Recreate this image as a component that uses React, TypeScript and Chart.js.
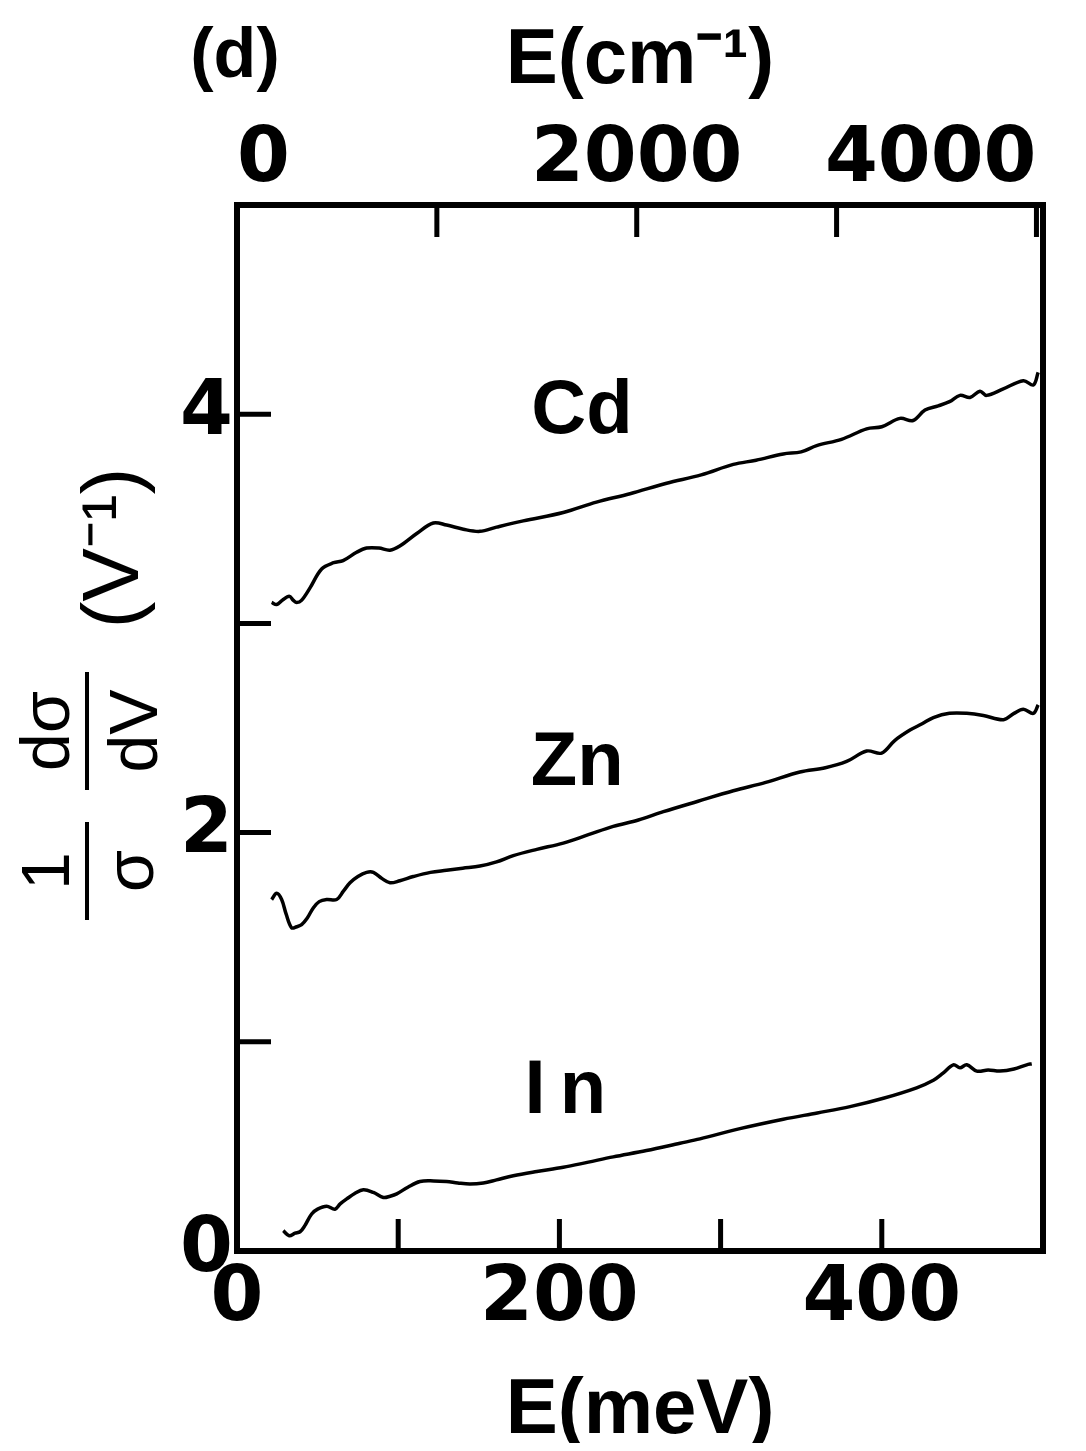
import { useEffect, useRef } from 'react';
import { Chart, registerables } from 'chart.js';

Chart.register(...registerables);

// Energy axis: meV on the bottom, wavenumber (cm^-1) on the top
const MEV_PER_CM = 0.123984;
const E_MAX_MEV = 500;
const Y_MAX = 5;

const MEV_TICKS = [0, 100, 200, 300, 400, 500];
const MEV_LABELED = [0, 200, 400];
const WAVENUMBER_TICKS = [0, 1000, 2000, 3000, 4000];
const WAVENUMBER_LABELED = [0, 2000, 4000];
const Y_TICKS = [0, 1, 2, 3, 4, 5];
const Y_LABELED = [0, 2, 4];

// (1/σ) dσ/dV spectra, energy in meV
const cdEnergy = [21.5, 24.6, 28, 32.4, 35, 37, 40, 45.3, 52.5, 60, 65.8, 74.2, 80.4, 88, 94.9, 101, 111.5, 121.8, 130, 140.4, 150.7, 161, 177.6, 202.4, 223, 243.8, 266.5, 288, 307.9, 322, 338.9, 350, 359.6, 375, 390.6, 400, 411.3, 419.4, 426.8, 435, 442, 448.5, 454.7, 460.9, 465, 475, 487.8, 494, 497];
const cdValues = [3.10, 3.09, 3.11, 3.13, 3.11, 3.10, 3.11, 3.17, 3.26, 3.29, 3.30, 3.34, 3.36, 3.36, 3.35, 3.37, 3.43, 3.48, 3.47, 3.45, 3.44, 3.46, 3.49, 3.53, 3.58, 3.62, 3.67, 3.71, 3.76, 3.78, 3.81, 3.82, 3.85, 3.88, 3.93, 3.94, 3.98, 3.97, 4.02, 4.04, 4.06, 4.09, 4.08, 4.11, 4.09, 4.12, 4.16, 4.14, 4.20];

const znEnergy = [21.5, 24.6, 27.7, 30.5, 33.9, 37, 40.1, 43.5, 47.3, 51, 55.6, 61.8, 66, 70.1, 75, 80.4, 84.6, 90, 94.9, 101, 109.4, 120, 130, 140, 150.7, 161, 171.4, 186, 202.4, 218, 233.4, 249, 264.5, 286, 307.9, 328, 349.2, 365, 378.2, 390.6, 399.9, 408, 417.5, 425, 432, 442, 452.7, 463, 475.5, 482, 487.8, 494, 497];
const znValues = [1.68, 1.71, 1.68, 1.61, 1.545, 1.55, 1.56, 1.59, 1.64, 1.67, 1.68, 1.68, 1.72, 1.76, 1.79, 1.81, 1.81, 1.78, 1.76, 1.77, 1.79, 1.81, 1.82, 1.83, 1.84, 1.86, 1.89, 1.92, 1.95, 1.99, 2.03, 2.06, 2.10, 2.15, 2.20, 2.24, 2.29, 2.31, 2.34, 2.39, 2.38, 2.44, 2.49, 2.52, 2.55, 2.57, 2.57, 2.56, 2.54, 2.57, 2.59, 2.57, 2.61];

const inEnergy = [28.7, 32.4, 36, 39.1, 42, 46.3, 50, 55.6, 60.8, 64, 68.1, 73, 78.4, 84.6, 90.8, 95, 99.1, 106, 113.5, 122, 130, 137, 144.5, 152.8, 161, 171.4, 186, 202.4, 218, 233.4, 254, 274.8, 287.2, 312, 338.9, 360, 380.3, 401, 421.6, 432, 438, 444.4, 448.5, 452.7, 458.9, 466, 473.3, 482, 489.9, 493];
const inValues = [0.097, 0.073, 0.085, 0.092, 0.12, 0.177, 0.20, 0.214, 0.20, 0.225, 0.249, 0.275, 0.293, 0.28, 0.256, 0.262, 0.273, 0.305, 0.332, 0.335, 0.332, 0.325, 0.32, 0.325, 0.34, 0.36, 0.38, 0.40, 0.425, 0.45, 0.48, 0.515, 0.536, 0.585, 0.63, 0.66, 0.69, 0.73, 0.78, 0.816, 0.85, 0.89, 0.876, 0.89, 0.86, 0.865, 0.86, 0.87, 0.89, 0.895];

const seriesNames = ['Cd', 'Zn', 'In'];
const seriesEnergy = [cdEnergy, znEnergy, inEnergy];
const seriesValues = [cdValues, znValues, inValues];

// where each element name sits, in data units (meV, V^-1)
const nameAnchorEnergy = [214, 211, 208];
const nameAnchorValue = [4.01, 2.33, 0.76];

const CANVAS_W = 1070;
const CANVAS_H = 1435;
const FONT = '"Liberation Sans", Arial, sans-serif';
const DIGIT_FONT = '"DejaVu Sans", "Liberation Sans", sans-serif';

const pairs = (xs: number[], ys: number[]) => xs.map((x, i) => ({ x, y: ys[i] }));

const decorations = {
  id: 'decorations',
  afterDraw(chart: any) {
    const { ctx, chartArea: a, scales } = chart;
    const x = scales.x;
    const x2 = scales.x2;
    const y = scales.y;
    ctx.save();
    ctx.strokeStyle = '#000';
    ctx.fillStyle = '#000';
    ctx.lineCap = 'butt';

    // inward tick marks
    ctx.lineWidth = 5;
    ctx.beginPath();
    MEV_TICKS.filter((v) => v > 0 && v < E_MAX_MEV).forEach((v) => {
      const px = x.getPixelForValue(v);
      ctx.moveTo(px, a.bottom);
      ctx.lineTo(px, a.bottom - 32);
    });
    WAVENUMBER_TICKS.filter((v) => v > 0).forEach((v) => {
      const px = x2.getPixelForValue(v);
      ctx.moveTo(px, a.top);
      ctx.lineTo(px, a.top + 32);
    });
    Y_TICKS.filter((v) => v > 0 && v < Y_MAX).forEach((v) => {
      const py = y.getPixelForValue(v);
      ctx.moveTo(a.left, py);
      ctx.lineTo(a.left + 34, py);
    });
    ctx.stroke();

    // frame
    ctx.lineWidth = 6;
    ctx.strokeRect(a.left, a.top, a.right - a.left, a.bottom - a.top);

    // element names
    ctx.font = `bold 76px ${FONT}`;
    ctx.textAlign = 'center';
    ctx.textBaseline = 'middle';
    seriesNames.forEach((name, i) => {
      const px = x.getPixelForValue(nameAnchorEnergy[i]);
      const py = y.getPixelForValue(nameAnchorValue[i]);
      (ctx as any).letterSpacing = name === 'In' ? '14px' : '0px';
      ctx.fillText(name, px, py);
    });
    (ctx as any).letterSpacing = '0px';

    // panel tag
    ctx.font = `bold 70px ${FONT}`;
    ctx.fillText('(d)', 227, 50);

    // y-axis title: (1/σ)(dσ/dV) (V⁻¹), read bottom to top
    ctx.translate(79, 692);
    ctx.rotate(-Math.PI / 2);
    ctx.font = `68px ${FONT}`;
    ctx.textBaseline = 'alphabetic';
    ctx.fillText('1', -171, -18);
    ctx.fillText('σ', -171, 66);
    ctx.fillText('dσ', -31, -18);
    ctx.fillText('dV', -31, 70);
    ctx.lineWidth = 4;
    ctx.beginPath();
    ctx.moveTo(-220, 0);
    ctx.lineTo(-122, 0);
    ctx.moveTo(-90, 0);
    ctx.lineTo(28, 0);
    ctx.stroke();
    ctx.font = `80px ${FONT}`;
    ctx.fillText('(V⁻¹)', 152, 51);
    ctx.restore();
  },
};

export default function App() {
  const canvasRef = useRef<HTMLCanvasElement | null>(null);

  useEffect(() => {
    const canvas = canvasRef.current;
    if (!canvas) return;
    const tickFont = { family: DIGIT_FONT, size: 76, weight: 'bold' as const, lineHeight: 1 };
    const titleFont = { family: FONT, size: 78, weight: 'bold' as const, lineHeight: 1 };

    const chart = new Chart(canvas, {
      type: 'line',
      data: {
        datasets: seriesNames.map((name, i) => ({
          label: name,
          data: pairs(seriesEnergy[i], seriesValues[i]),
          borderColor: '#000',
          borderWidth: 3.5,
          pointRadius: 0,
          tension: 0.35,
          fill: false,
          xAxisID: 'x',
          yAxisID: 'y',
        })),
      },
      options: {
        animation: false,
        responsive: false,
        devicePixelRatio: 1,
        layout: { padding: { left: 0, right: 35, top: 0, bottom: 0 } },
        plugins: { legend: { display: false }, tooltip: { enabled: false } },
        scales: {
          x: {
            type: 'linear',
            position: 'bottom',
            min: 0,
            max: E_MAX_MEV,
            grid: { display: false, drawTicks: false },
            border: { display: false },
            afterBuildTicks: (s: any) => {
              s.ticks = MEV_TICKS.map((value) => ({ value }));
            },
            afterFit: (s: any) => {
              s.height = 192;
            },
            ticks: {
              autoSkip: false,
              maxRotation: 0,
              padding: 11,
              color: '#000',
              font: tickFont,
              callback: (v: any) => (MEV_LABELED.includes(Number(v)) ? String(v) : ''),
            },
            title: {
              display: true,
              text: 'E(meV)',
              color: '#000',
              font: titleFont,
              padding: { top: 0, bottom: -7 },
            },
          },
          x2: {
            type: 'linear',
            position: 'top',
            min: 0,
            max: E_MAX_MEV / MEV_PER_CM,
            grid: { display: false, drawTicks: false },
            border: { display: false },
            afterBuildTicks: (s: any) => {
              s.ticks = WAVENUMBER_TICKS.map((value) => ({ value }));
            },
            afterFit: (s: any) => {
              s.height = 197;
            },
            ticks: {
              autoSkip: false,
              maxRotation: 0,
              padding: 6,
              align: 'inner',
              color: '#000',
              font: tickFont,
              callback: (v: any) => (WAVENUMBER_LABELED.includes(Number(v)) ? String(v) : ''),
            },
            title: {
              display: true,
              text: 'E(cm⁻¹)',
              color: '#000',
              font: titleFont,
              padding: { top: 14, bottom: 0 },
            },
          },
          y: {
            type: 'linear',
            position: 'left',
            min: 0,
            max: Y_MAX,
            grid: { display: false, drawTicks: false },
            border: { display: false },
            afterBuildTicks: (s: any) => {
              s.ticks = Y_TICKS.map((value) => ({ value }));
            },
            afterFit: (s: any) => {
              s.width = 229;
            },
            ticks: {
              autoSkip: false,
              padding: 4,
              color: '#000',
              font: tickFont,
              callback: (v: any) => (Y_LABELED.includes(Number(v)) ? String(v) : ''),
            },
          },
        },
      },
      plugins: [decorations],
    });

    return () => chart.destroy();
  }, []);

  return (
    <canvas
      ref={canvasRef}
      width={CANVAS_W}
      height={CANVAS_H}
      style={{ display: 'block', width: CANVAS_W, height: CANVAS_H, background: '#fff' }}
    />
  );
}
